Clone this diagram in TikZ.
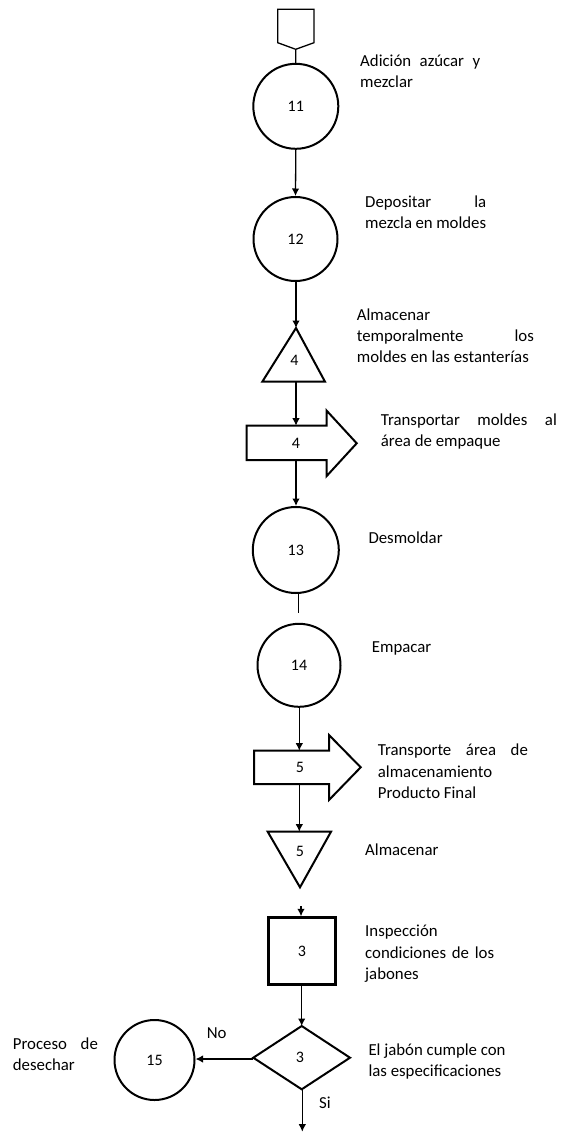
\documentclass[tikz,border=0pt]{standalone}
\usepackage{fontspec}
\setmainfont{Carlito}
\usetikzlibrary{arrows.meta}
\newcommand{\txtfont}{\fontsize{16.8}{21.3}\selectfont}
\newcommand{\numfont}{\fontsize{16}{19}\selectfont}
\begin{document}
\begin{tikzpicture}[x=1pt,y=-1pt,
  proc/.style={circle,draw,line width=2pt,minimum size=#1,inner sep=0pt,font=\numfont},
  outline/.style={draw,line width=2pt,line join=miter},
  conn/.style={line width=1.3pt},
  arr/.style={conn,-{Latex[length=7.5pt,width=7.5pt]}},
  lbl/.style={anchor=base west,inner sep=0pt,font=\txtfont},
  numlbl/.style={inner sep=0pt,font=\numfont},
  small/.style={inner sep=0pt,font=\txtfont}]
\useasboundingbox (0,0) rectangle (561,1132);

% off-page connector
\draw[line width=1.3pt,line join=miter] (277.7,9.3) -- (314,9.3) -- (314,42.7) -- (295.7,49.3) -- (277.7,42.7) -- cycle;
\coordinate (pent) at (295.7,49.3);

% operations
\node[proc=85] (c11) at (295.8,106.3) {11};
\node[proc=84] (c12) at (295.5,239) {12};
\node[proc=86] (c13) at (295.8,550) {13};
\node[proc=83] (c14) at (299,665.3) {14};
\node[proc=80] (c15) at (154.5,1060) {15};

% storage triangle 4 (up)
\draw[outline] (296,328) -- (325,381.7) -- (262.3,381.7) -- cycle;
\coordinate (t4top) at (296,328);
\coordinate (t4bot) at (296,381.7);
\node[numlbl] (n4a) at (294.5,360) {4};

% transport arrow 4
\draw[outline] (246.7,425.7) -- (326.7,425.7) -- (326.7,410.7) -- (356.7,443.3) -- (326.7,476) -- (326.7,460) -- (246.7,460) -- cycle;
\coordinate (a4top) at (296,425.7);
\coordinate (a4bot) at (296,460);
\node[numlbl] (n4b) at (296,443) {4};

% transport arrow 5
\draw[outline] (254,750.7) -- (329,750.7) -- (329,735) -- (360.7,767.3) -- (329,800) -- (329,784) -- (254,784) -- cycle;
\coordinate (a5top) at (299.3,750.7);
\coordinate (a5bot) at (299.3,784);
\node[numlbl] (n5a) at (300,767.3) {5};

% storage triangle 5 (down)
\draw[outline] (267.7,831.7) -- (331,831.7) -- (300,887.3) -- cycle;
\coordinate (t5top) at (299.3,831.7);
\node[numlbl] (n5b) at (300,851.7) {5};

% inspection box
\node[draw,line width=2.8pt,minimum width=67.4pt,minimum height=66.6pt,inner sep=0pt,font=\numfont] (b3) at (302,951) {3};
\coordinate (b3in) at (301,906);

% decision diamond
\draw[outline] (301.7,1026) -- (350,1057.7) -- (301.7,1089.3) -- (253.3,1057.7) -- cycle;
\coordinate (dtop) at (301.7,1026);
\coordinate (dleft) at (253.3,1059);
\coordinate (dbot) at (302.3,1089.3);
\coordinate (dend) at (302.3,1131.7);
\node[numlbl] (n3b) at (300,1057.7) {3};

% connectors
\draw[conn] (pent) -- (c11.north);
\draw[arr] (c11.south) -- (c12.north);
\draw[arr] (c12.south -| t4top) -- (t4top);
\draw[arr] (t4bot) -- (a4top);
\draw[arr] (a4bot) -- (c13.north -| a4bot);
\coordinate (stub) at (298.3,612.7);
\draw[conn] (c13.south -| stub) -- (stub);
\draw[arr] (c14.south -| a5top) -- (a5top);
\draw[arr] (a5bot) -- (t5top);
\draw[arr] (b3in) -- (b3.north -| b3in);
\draw[arr] (b3.south -| dtop) -- (dtop);
\draw[arr] (dleft) -- (c15.east |- dleft);
\draw[arr] (dbot) -- (dend);

\node[small] (no) at (216.7,1033.3) {No};
\node[small] (si) at (325,1102.3) {Si};

% descriptions
\node[lbl] (d11) at (360,66.7) {\parbox[t]{120pt}{\makebox[120pt][s]{Adición azúcar y}\\mezclar}};
\node[lbl] (d12) at (365,207) {\parbox[t]{121pt}{\makebox[121pt][s]{Depositar la}\\mezcla en moldes}};
\node[lbl] (d4a) at (356.7,320) {\parbox[t]{177pt}{Almacenar\\\makebox[177pt][s]{temporalmente los}\\moldes en las estanterías}};
\node[lbl] (d4b) at (380.7,425) {\parbox[t]{176pt}{\makebox[176pt][s]{Transportar moldes al}\\área de empaque}};
\node[lbl] (d13) at (368.3,543.5) {Desmoldar};
\node[lbl] (d14) at (371.7,652.3) {Empacar};
\node[lbl] (d5a) at (377.7,755.7) {\parbox[t]{150pt}{\makebox[150pt][s]{Transporte área de}\\almacenamiento\\Producto Final}};
\node[lbl] (d5b) at (365,855.7) {Almacenar};
\node[lbl] (d3a) at (365,936.7) {\parbox[t]{129pt}{Inspección\\\makebox[129pt][s]{condiciones de los}\\jabones}};
\node[lbl] (d3b) at (368.3,1055) {\parbox[t]{160pt}{El jabón cumple con\\las especificaciones}};
\node[lbl] (d15) at (12.7,1049.3) {\parbox[t]{85pt}{\makebox[85pt][s]{Proceso de}\\desechar}};
\end{tikzpicture}
\end{document}
